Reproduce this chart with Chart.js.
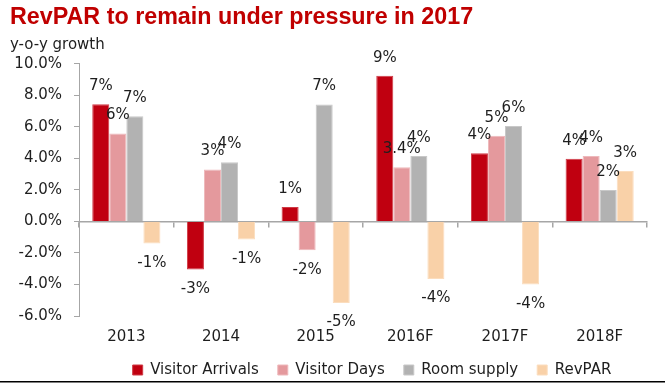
<!DOCTYPE html>
<html>
<head>
<meta charset="utf-8">
<script src="https://cdn.jsdelivr.net/npm/chart.js@4"></script>
<style>
  html, body { margin: 0; padding: 0; background: #fff; }
  #wrap { width: 665px; height: 383px; position: relative; }
</style>
</head>
<body>
<div id="wrap"><canvas id="c" width="665" height="383"></canvas></div>
<script>
const categories = ['2013', '2014', '2015', '2016F', '2017F', '2018F'];
const visitorArrivals = [7.45, -3.05, 0.92, 9.25, 4.33, 3.98];
const visitorDays     = [5.58, 3.30, -1.82, 3.45, 5.45, 4.15];
const roomSupply      = [6.68, 3.76, 7.42, 4.16, 6.06, 2.00];
const revPAR          = [-1.40, -1.15, -5.18, -3.65, -4.00, 3.20];
const arrivalsLabels  = ['7%', '-3%', '1%', '9%', '4%', '4%'];
const daysLabels      = ['6%', '3%', '-2%', '3.4%', '5%', '4%'];
const supplyLabels    = ['7%', '4%', '7%', '4%', '6%', '2%'];
const revparLabels    = ['-1%', '-1%', '-5%', '-4%', '-4%', '3%'];
const yTicks = [-6, -4, -2, 0, 2, 4, 6, 8, 10];

const FONT = 'DejaVu Sans';
const TXT = '#1e1e1e';

const dataLabelPlugin = {
  id: 'dataLabels',
  afterDatasetsDraw(chart) {
    const ctx = chart.ctx;
    ctx.save();
    ctx.font = '15px "' + FONT + '"';
    ctx.fillStyle = TXT;
    ctx.textAlign = 'center';
    ctx.textBaseline = 'middle';
    chart.data.datasets.forEach((ds, i) => {
      const meta = chart.getDatasetMeta(i);
      meta.data.forEach((bar, j) => {
        const v = ds.data[j];
        const y = v >= 0 ? bar.y - 18 : bar.y + 19.5;
        ctx.fillText(ds.labelTexts[j], bar.x, y);
      });
    });
    ctx.restore();
  }
};

const legendHeightPlugin = {
  id: 'legendHeight',
  afterInit(chart) {
    const lg = chart.legend;
    if (lg && !lg._patched) {
      const orig = lg.fit.bind(lg);
      lg.fit = function () { orig(); this.height = 39.5; };
      lg._patched = true;
    }
  },
  afterLayout(chart) {
    const lg = chart.legend;
    if (lg) { lg.left += 9; lg.right += 9; }
  }
};

const bottomLinePlugin = {
  id: 'bottomLine',
  afterDraw(chart) {
    const ctx = chart.ctx;
    ctx.save();
    ctx.fillStyle = '#000';
    ctx.fillRect(0, chart.height - 2, chart.width, 1.5);
    ctx.restore();
  }
};

new Chart(document.getElementById('c'), {
  type: 'bar',
  data: {
    labels: categories,
    datasets: [
      { label: 'Visitor Arrivals', data: visitorArrivals, labelTexts: arrivalsLabels, backgroundColor: '#C00010', borderColor: '#CF3A45', borderWidth: 1 },
      { label: 'Visitor Days', data: visitorDays, labelTexts: daysLabels, backgroundColor: '#E4999D', borderColor: '#EEB8BB', borderWidth: 1 },
      { label: 'Room supply', data: roomSupply, labelTexts: supplyLabels, backgroundColor: '#B2B2B2', borderColor: '#C8C8C8', borderWidth: 1 },
      { label: 'RevPAR', data: revPAR, labelTexts: revparLabels, backgroundColor: '#F9D1A8', borderColor: '#FBDDBE', borderWidth: 1 }
    ]
  },
  options: {
    responsive: false,
    animation: false,
    devicePixelRatio: 1,
    layout: { padding: { left: 10, right: 18, top: 0, bottom: 0 } },
    datasets: { bar: { categoryPercentage: 0.72, barPercentage: 1.0 } },
    plugins: {
      title: {
        display: true,
        text: 'RevPAR to remain under pressure in 2017',
        align: 'start',
        color: '#C00000',
        font: { family: 'Liberation Sans', size: 23.3, weight: 'bold', lineHeight: 1.2 },
        padding: { top: 4, bottom: 2 }
      },
      subtitle: {
        display: true,
        text: 'y-o-y growth',
        align: 'start',
        color: TXT,
        font: { family: FONT, size: 15, lineHeight: 1.2 },
        padding: { top: 2, bottom: 10 }
      },
      legend: {
        position: 'bottom',
        fullSize: false,
        labels: {
          boxWidth: 10,
          boxHeight: 10,
          padding: 19,
          color: TXT,
          font: { family: FONT, size: 15 }
        }
      },
      tooltip: { enabled: false }
    },
    scales: {
      x: {
        type: 'category',
        position: 'bottom',
        grid: { display: false, drawTicks: false },
        border: { display: false },
        ticks: { color: TXT, font: { family: FONT, size: 15 }, padding: 12, maxRotation: 0 },
        afterFit(s) { s.height = 27.5; }
      },
      x0: {
        type: 'category',
        labels: categories,
        position: { y: 0 },
        offset: true,
        grid: { display: true, drawOnChartArea: false, drawTicks: true, tickLength: 5, color: '#A6A6A6', lineWidth: 1.5, offset: true },
        border: { display: true, color: '#A6A6A6', width: 1.5 },
        ticks: { display: false },
        afterFit(s) { s.height = 0; }
      },
      y: {
        min: -6,
        max: 10,
        afterBuildTicks(s) { s.ticks = yTicks.map(v => ({ value: v })); },
        grid: { display: true, drawOnChartArea: false, drawTicks: true, tickLength: 5, color: '#A6A6A6' },
        border: { display: true, color: '#A6A6A6', width: 1 },
        ticks: {
          color: TXT,
          font: { family: FONT, size: 15 },
          padding: 12,
          callback: v => Number(v).toFixed(1) + '%'
        },
        afterFit(s) { s.width = 69; }
      }
    }
  },
  plugins: [dataLabelPlugin, legendHeightPlugin, bottomLinePlugin]
});
</script>
</body>
</html>
